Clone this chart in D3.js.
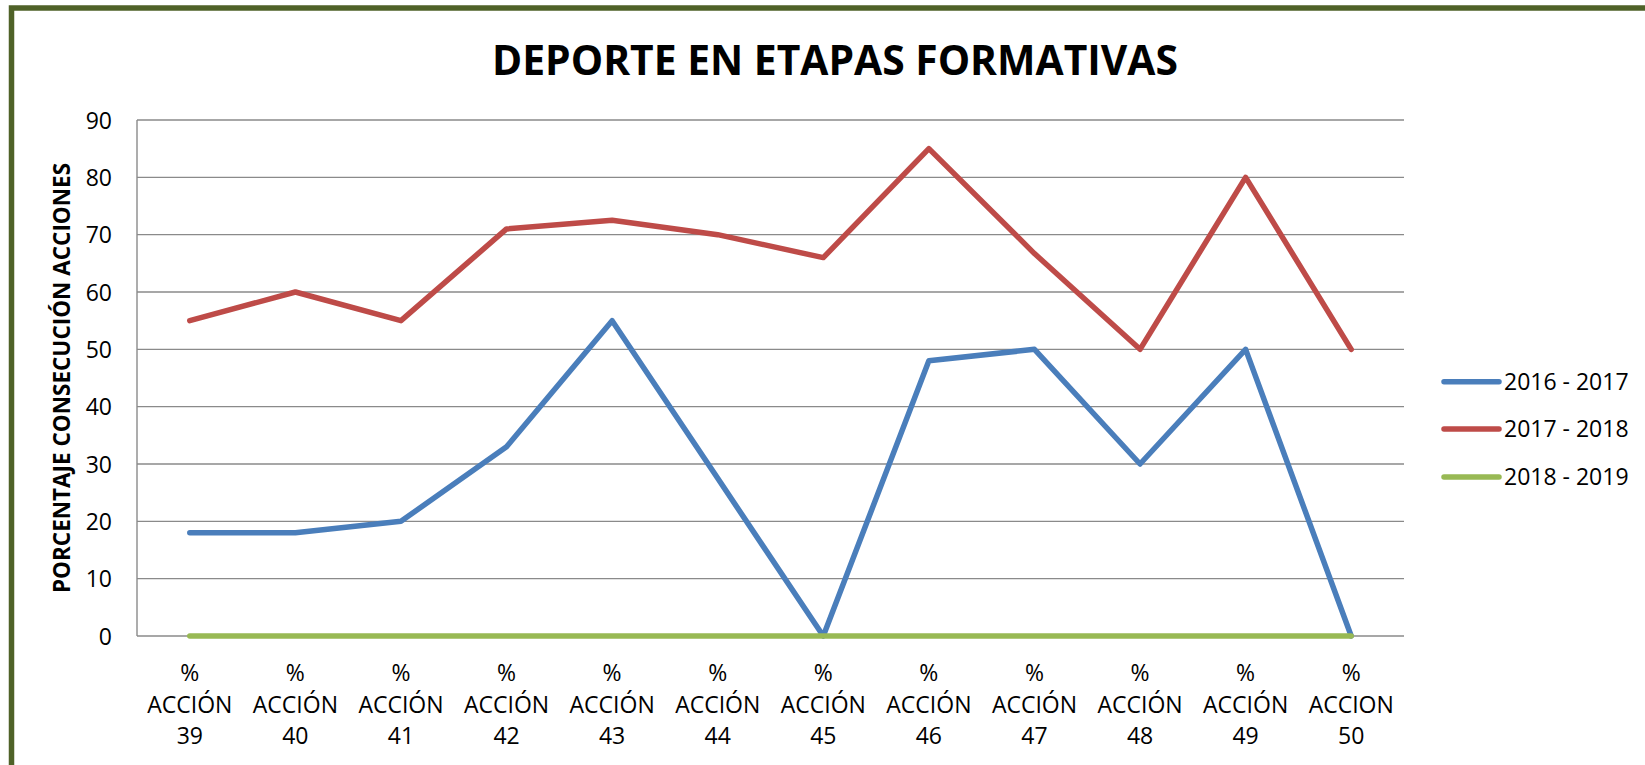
<!DOCTYPE html>
<html>
<head>
<meta charset="utf-8">
<script src="https://cdn.jsdelivr.net/npm/d3@7"></script>
<style>
  html, body { margin: 0; padding: 0; background: #ffffff; }
  svg { display: block; }
  text { font-family: "Open Sans", "Liberation Sans", sans-serif; fill: #000; }
</style>
</head>
<body>
<svg id="chart" width="1645" height="765"></svg>
<script>
// ---- Data ----
const title = "DEPORTE EN ETAPAS FORMATIVAS";
const yAxisTitle = "PORCENTAJE CONSECUCIÓN ACCIONES";
const categories = [
  ["%", "ACCIÓN", "39"], ["%", "ACCIÓN", "40"], ["%", "ACCIÓN", "41"],
  ["%", "ACCIÓN", "42"], ["%", "ACCIÓN", "43"], ["%", "ACCIÓN", "44"],
  ["%", "ACCIÓN", "45"], ["%", "ACCIÓN", "46"], ["%", "ACCIÓN", "47"],
  ["%", "ACCIÓN", "48"], ["%", "ACCIÓN", "49"], ["%", "ACCION", "50"]
];
const seriesNames = ["2016 - 2017", "2017 - 2018", "2018 - 2019"];
const values2016_2017 = [18, 18, 20, 33, 55, 27.5, 0, 48, 50, 30, 50, 0];
const values2017_2018 = [55, 60, 55, 71, 72.5, 70, 66, 85, 66.7, 50, 80, 50];
const values2018_2019 = [0, 0, 0, 0, 0, 0, 0, 0, 0, 0, 0, 0];
const yTicks = [0, 10, 20, 30, 40, 50, 60, 70, 80, 90];
const seriesColors = ["#4a7ebb", "#be4b48", "#98b954"];

// ---- Layout ----
const svg = d3.select("#chart");
const plot = { left: 137, right: 1404, top: 120, bottom: 636 };

// Outer border
svg.append("rect")
  .attr("x", 11.5).attr("y", 8)
  .attr("width", 1700).attr("height", 800)
  .attr("fill", "#fff")
  .attr("stroke", "#4f6228")
  .attr("stroke-width", 5.5);

const catKeys = categories.map((c, i) => i);
const x = d3.scalePoint().domain(catKeys).range([plot.left, plot.right]).padding(0.5);
const y = d3.scaleLinear().domain([0, 90]).range([plot.bottom, plot.top]);

// Y axis tick labels
const yAxis = d3.axisLeft(y).tickValues(yTicks).tickSize(0).tickPadding(25);
const gAxis = svg.append("g").attr("transform", `translate(${plot.left},0)`).call(yAxis);
gAxis.select(".domain").remove();
gAxis.selectAll("text")
  .attr("font-size", 23)
  .attr("font-family", "Open Sans")
  .attr("fill", "#000")
  .attr("dy", "0.36em");

// Gridlines
svg.append("g").selectAll("line.grid")
  .data(yTicks).join("line")
  .attr("x1", plot.left).attr("x2", plot.right)
  .attr("y1", d => y(d)).attr("y2", d => y(d))
  .attr("stroke", "#8a8a8a").attr("stroke-width", 1.4);

// Vertical axis line
svg.append("line")
  .attr("x1", plot.left).attr("x2", plot.left)
  .attr("y1", y(90)).attr("y2", y(0))
  .attr("stroke", "#8a8a8a").attr("stroke-width", 1.4);

// X labels
const xl = svg.append("g");
categories.forEach((lines, i) => {
  const t = xl.append("text")
    .attr("text-anchor", "middle")
    .attr("font-size", 23);
  lines.forEach((ln, j) => {
    t.append("tspan").attr("x", x(i)).attr("y", 681 + j * 31.5).text(ln);
  });
});

// Lines
const lineGen = d3.line().x((d, i) => x(i)).y(d => y(d));
const allSeries = [values2016_2017, values2017_2018, values2018_2019];
allSeries.forEach((vals, si) => {
  svg.append("path")
    .datum(vals)
    .attr("d", lineGen)
    .attr("fill", "none")
    .attr("stroke", seriesColors[si])
    .attr("stroke-width", 5.5)
    .attr("stroke-linejoin", "round")
    .attr("stroke-linecap", "round");
});

// Title
svg.append("text")
  .attr("x", 835).attr("y", 75)
  .attr("text-anchor", "middle")
  .attr("font-size", 40.8)
  .attr("font-weight", 700)
  .text(title);

// Y axis title
svg.append("text")
  .attr("transform", `translate(70,378) rotate(-90)`)
  .attr("text-anchor", "middle")
  .attr("font-size", 22.5)
  .attr("font-weight", 700)
  .text(yAxisTitle);

// Legend
const legY = [381.7, 429, 477];
seriesNames.forEach((name, i) => {
  svg.append("line")
    .attr("x1", 1444).attr("x2", 1499)
    .attr("y1", legY[i]).attr("y2", legY[i])
    .attr("stroke", seriesColors[i])
    .attr("stroke-width", 5.5)
    .attr("stroke-linecap", "round");
  svg.append("text")
    .attr("x", 1504).attr("y", legY[i])
    .attr("dy", "0.36em")
    .attr("font-size", 23)
    .text(name);
});
</script>
</body>
</html>
